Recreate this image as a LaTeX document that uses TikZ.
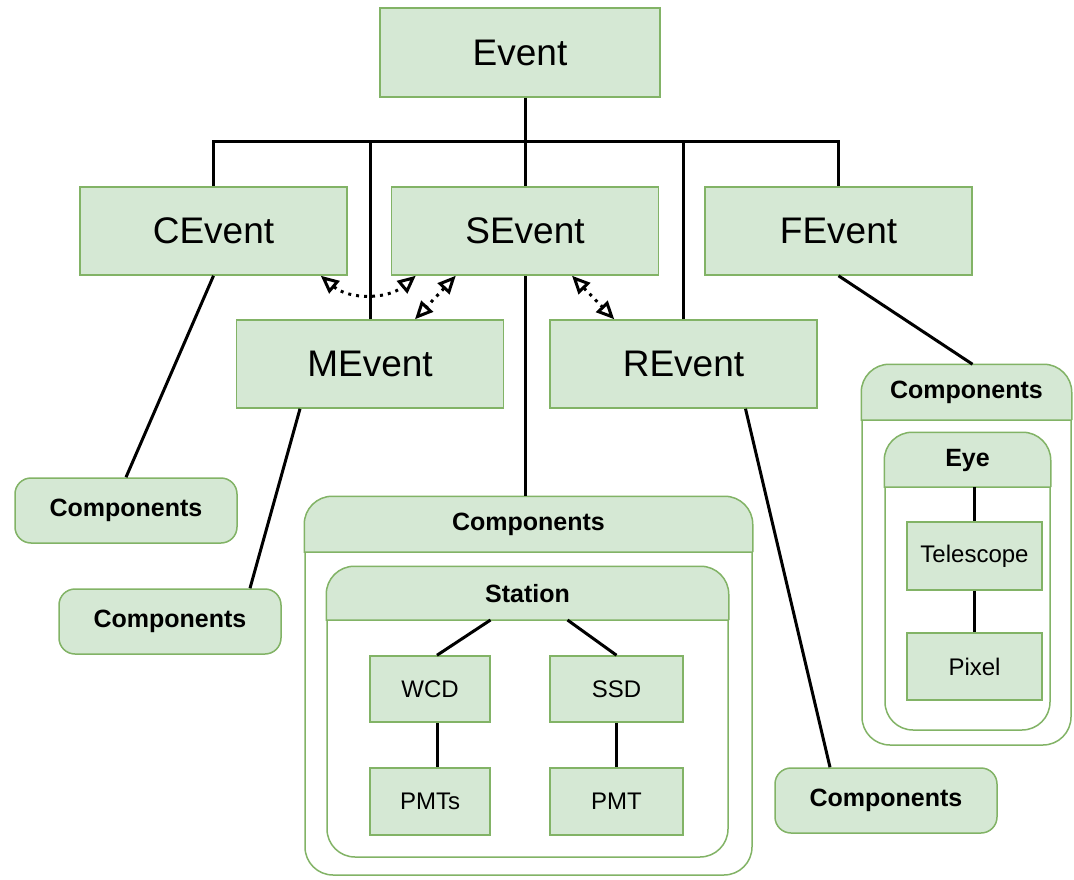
\documentclass[tikz,border=0pt]{standalone}
\usepackage{fontspec}
\setmainfont{Liberation Sans}
\usetikzlibrary{arrows.meta,calc}
\definecolor{boxfill}{HTML}{D5E8D4}
\definecolor{boxline}{HTML}{82B366}

\begin{document}
\begin{tikzpicture}[x=1pt,y=-1pt,
	evt/.style={draw=boxline,fill=boxfill,line width=1.5,minimum width=267,minimum height=88,font=\fontsize{37}{44}\selectfont},
	comp/.style={draw=boxline,fill=boxfill,line width=1.5,rounded corners=16,minimum width=222,minimum height=65,font=\bfseries\fontsize{25}{30}\selectfont},
	part/.style={draw=boxline,fill=boxfill,line width=1.5,minimum height=66,font=\fontsize{24}{28}\selectfont},
	frame/.style={draw=boxline,fill=white,line width=1.5,rounded corners=28},
	head/.style={draw=boxline,fill=boxfill,line width=1.5},
	title/.style={font=\bfseries\fontsize{25}{30}\selectfont},
	link/.style={line width=3},
	swap/.style={line width=3,dash pattern=on 3pt off 5pt,{Triangle[open,length=18pt,width=16pt]}-{Triangle[open,length=18pt,width=16pt]}}]
	\useasboundingbox (0,0) rectangle (1074,880);
	
	%EVENTS
	\node[evt,minimum width=280,minimum height=89] (event) at (520,52.5) {Event};
	\node[evt] (cevent) at (213.5,231) {CEvent};
	\node[evt] (sevent) at (525,231) {SEvent};
	\node[evt] (fevent) at (838.5,231) {FEvent};
	\node[evt] (mevent) at (370,364) {MEvent};
	\node[evt] (revent) at (683.5,364) {REvent};
	
	%TREE
	\coordinate (bar) at (0,142);
	\draw[link] (event.south -| sevent.north) -- (sevent.north);
	\draw[link] (cevent.north) |- (fevent.north |- bar) -- (fevent.north);
	\draw[link] (mevent.north) -- (mevent.north |- bar);
	\draw[link] (revent.north) -- (revent.north |- bar);
	
	%SMALL COMPONENTS
	\node[comp] (cComp) at (126,510.5) {Components};
	\node[comp] (mComp) at (170,621.5) {Components};
	\node[comp] (rComp) at (886,800.5) {Components};
	\draw[link] (cevent.south) -- (cComp.north);
	\draw[link] ([xshift=-70]mevent.south) -- ([xshift=80]mComp.north);
	\draw[link] ([xshift=62]revent.south) -- ([xshift=-56]rComp.north);
	
	%SURFACE COMPONENTS
	\node[frame,minimum width=447,minimum height=378] (sComp) at (528.5,686) {};
	\filldraw[head] (sComp.east |- 0,552) -- (sComp.west |- 0,552) [rounded corners=28] |- (sComp.north) -| (sComp.east |- 0,552);
	\node[title] (sTitle) at (528.5,524.5) {Components};
	\draw[link] (sevent.south) -- (sevent.south |- sComp.north);
	
	\node[frame,minimum width=401,minimum height=290] (station) at (527.5,712) {};
	\filldraw[head] (station.east |- 0,620) -- (station.west |- 0,620) [rounded corners=28] |- (station.north) -| (station.east |- 0,620);
	\node[title] (stTitle) at (527.5,593.5) {Station};
	\coordinate (stBase) at (527.5,620);
	
	\node[part,minimum width=120] (wcd) at (430,689) {WCD};
	\node[part,minimum width=133] (ssd) at (616.5,689) {SSD};
	\node[part,minimum width=120,minimum height=67] (pmts) at (430,801.5) {PMTs};
	\node[part,minimum width=133,minimum height=67] (pmt) at (616.5,801.5) {PMT};
	\draw[link] ([xshift=-37]stBase) -- ([xshift=7]wcd.north);
	\draw[link] ([xshift=40]stBase) -- (ssd.north);
	\draw[link] ([xshift=7]wcd.south) -- ([xshift=7]pmts.north);
	\draw[link] (ssd.south) -- (pmt.north);
	
	%FLUORESCENCE COMPONENTS
	\node[frame,minimum width=209,minimum height=380] (fComp) at (966.5,555) {};
	\filldraw[head] (fComp.east |- 0,420) -- (fComp.west |- 0,420) [rounded corners=28] |- (fComp.north) -| (fComp.east |- 0,420);
	\node[title] (fTitle) at (966.5,392.5) {Components};
	\draw[link] (fevent.south) -- ([xshift=6]fComp.north);
	
	\node[frame,minimum width=165,minimum height=297] (eye) at (967.5,581.5) {};
	\filldraw[head] (eye.east |- 0,487) -- (eye.west |- 0,487) [rounded corners=28] |- (eye.north) -| (eye.east |- 0,487);
	\node[title] (eyeTitle) at (967.5,460) {Eye};
	\coordinate (eyeBase) at (967.5,487);
	
	\node[part,minimum width=135,minimum height=68] (telescope) at (974.5,556) {Telescope};
	\node[part,minimum width=135,minimum height=67] (pixel) at (974.5,666.5) {Pixel};
	\draw[link] (telescope.north |- eyeBase) -- (telescope.north);
	\draw[link] (telescope.south) -- (pixel.north);
	
	%EXCHANGES
	\draw[swap] ([xshift=-27]cevent.south east) to[bend right=40] ([xshift=25]sevent.south west);
	\draw[swap] ([xshift=65]sevent.south west) -- ([xshift=45]mevent.north);
	\draw[swap] ([xshift=47]sevent.south) -- ([xshift=65]revent.north west);
\end{tikzpicture}
\end{document}
